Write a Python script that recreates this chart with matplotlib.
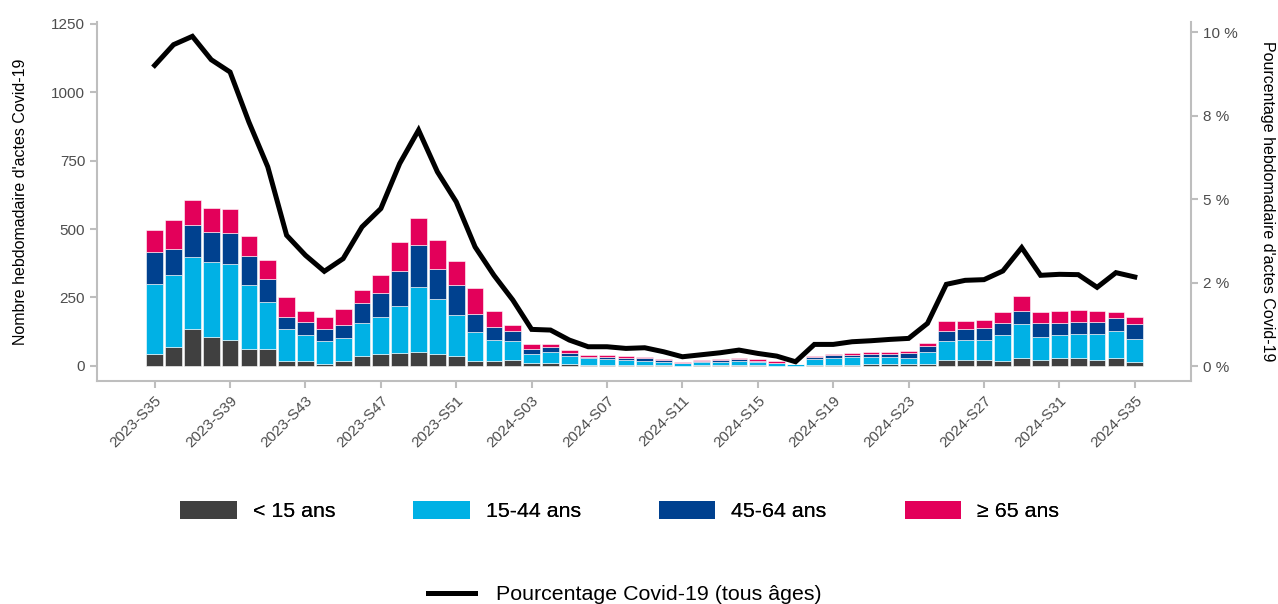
import matplotlib
matplotlib.use("Agg")
import matplotlib.pyplot as plt
from matplotlib.patches import Patch
from matplotlib.lines import Line2D
import numpy as np

plt.rcParams['font.family'] = ['Liberation Sans', 'DejaVu Sans']

# Semaines (catégories)
semaines = [f"2023-S{w:02d}" for w in range(35, 53)] + [f"2024-S{w:02d}" for w in range(1, 36)]

# Nombre d'actes par classe d'âge
moins15 = [44, 68, 135, 105, 95, 62, 61, 16, 16, 8, 16, 35, 44, 46, 52, 43, 35, 16, 16, 22,
           10, 10, 7, 4, 4, 3, 3, 2, 1, 2, 2, 3, 2, 1, 1, 3, 3, 4, 5, 5, 5, 6, 23, 22, 22,
           17, 30, 22, 27, 27, 22, 29, 15]
age15_44 = [255, 265, 261, 276, 277, 233, 172, 119, 95, 82, 87, 121, 133, 174, 237, 202, 149,
            106, 80, 68, 33, 41, 30, 24, 22, 18, 16, 13, 9, 11, 12, 13, 12, 8, 4, 22, 26, 28,
            26, 27, 24, 45, 67, 71, 71, 97, 124, 85, 87, 91, 96, 98, 83]
age45_64 = [116, 95, 117, 110, 115, 105, 84, 45, 49, 44, 47, 74, 89, 127, 151, 108, 112, 69,
            45, 37, 18, 17, 9, 5, 6, 8, 8, 5, 2, 3, 6, 8, 5, 2, 1, 6, 9, 8, 12, 12, 17, 23,
            38, 40, 47, 44, 48, 49, 42, 43, 43, 47, 56]
plus65 = [82, 104, 94, 85, 87, 76, 70, 71, 42, 43, 56, 47, 67, 107, 102, 107, 88, 95, 61, 22,
          18, 12, 11, 7, 8, 6, 7, 4, 3, 5, 4, 6, 5, 5, 1, 6, 5, 7, 7, 8, 8, 11, 34, 31, 27,
          39, 53, 39, 46, 44, 40, 24, 26]

# Pourcentage Covid-19 (tous âges)
pourcentage = [9.01, 9.63, 9.88, 9.18, 8.81, 7.31, 5.97, 3.92, 3.32, 2.84, 3.22, 4.17, 4.72,
               6.07, 7.07, 5.82, 4.92, 3.57, 2.72, 1.98, 1.10, 1.08, 0.78, 0.58, 0.58, 0.53,
               0.55, 0.43, 0.28, 0.34, 0.40, 0.48, 0.38, 0.30, 0.13, 0.65, 0.65, 0.73, 0.76,
               0.80, 0.83, 1.28, 2.45, 2.57, 2.59, 2.85, 3.55, 2.72, 2.75, 2.74, 2.36, 2.80, 2.67]

classes = ["< 15 ans", "15-44 ans", "45-64 ans", "≥ 65 ans"]
couleurs = ["#404040", "#00B1E5", "#00418F", "#E3005A"]

gris_axe = "#BEBEBE"
gris_txt = "#4D4D4D"

fig = plt.figure(figsize=(12.78, 6.04), dpi=100)
ax = fig.add_axes([0.0759, 0.369, 0.856, 0.5946])
x = np.arange(len(semaines))

# Barres empilées par classe d'âge
bas = np.zeros(len(semaines))
for serie, coul in zip([moins15, age15_44, age45_64, plus65], couleurs):
    ax.bar(x, serie, bottom=bas, width=0.89, color=coul, edgecolor="white", linewidth=0.4)
    bas += np.array(serie)

ax.set_xlim(-3.06, 54.98)
ax.set_ylim(-56, 1257)
ax.set_yticks([0, 250, 500, 750, 1000, 1250])
ax.set_xticks(x[::4])
ax.set_xticklabels(semaines[::4], rotation=45, ha="right", va="top", rotation_mode="anchor")
ax.set_ylabel("Nombre hebdomadaire d'actes Covid-19", fontsize=11.5, labelpad=17)

# Courbe du pourcentage sur l'axe secondaire
ax2 = ax.twinx()
ax2.plot(x, pourcentage, color="black", linewidth=3.6, solid_joinstyle="miter")
ax2.set_ylim(-0.45, 10.31)
ax2.set_yticks([0, 2.5, 5, 7.5, 10])
ax2.set_yticklabels(["0 %", "2 %", "5 %", "8 %", "10 %"])
ax2.set_ylabel("Pourcentage hebdomadaire d'actes Covid-19", fontsize=11.5, rotation=-90,
               va="bottom", labelpad=16)

for a in (ax, ax2):
    for s in a.spines.values():
        s.set_color(gris_axe)
        s.set_linewidth(1.5)
    a.spines["top"].set_visible(False)
    a.tick_params(colors=gris_axe, labelcolor=gris_txt, labelsize=11, width=1.5, length=5)
ax2.spines["left"].set_visible(False)
ax2.spines["bottom"].set_visible(False)
ax.spines["right"].set_visible(False)
ax.tick_params(axis="x", pad=4)

# Légendes
poignees = [Patch(facecolor=c, edgecolor="none") for c in couleurs]
leg1 = fig.legend(poignees, classes, loc="center", bbox_to_anchor=(0.485, 0.154), ncol=4,
                  frameon=False, fontsize=15.4, handlelength=2.63, handleheight=0.94,
                  handletextpad=0.75, columnspacing=3.66)
fig.add_artist(leg1)
fig.legend([Line2D([0], [0], color="black", linewidth=3.6)], ["Pourcentage Covid-19 (tous âges)"],
           loc="center", bbox_to_anchor=(0.489, 0.015), frameon=False, fontsize=15.4,
           handlelength=2.2, handletextpad=1.0)

fig.savefig("out.png", dpi=100)
